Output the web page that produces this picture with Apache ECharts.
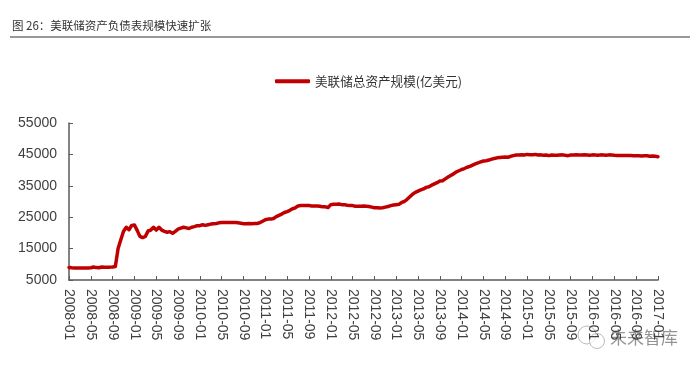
<!DOCTYPE html>
<html><head><meta charset="utf-8">
<style>html,body{margin:0;padding:0;background:#fff}#c{width:700px;height:369px}</style>
<script src="https://cdn.jsdelivr.net/npm/echarts@6/dist/echarts.min.js"></script>
</head><body><div id="c"></div>
<script>
const titleText = '图 26：美联储资产负债表规模快速扩张';
const seriesName = '美联储总资产规模(亿美元)';
const watermark = '未来智库';
const startYear = 2008, endYear = 2017;
// half-monthly readings, two values per month
const v2008 = [9000,8900,8850,8850,8850,8850,8850,8850,8900,9150,8950,8900,9150,9050,9100,9100,9150,9300,15000,17800,20500,21800,21000,22400];
const v2009 = [22500,20800,18900,18500,18900,20600,20900,21800,20900,21800,20900,20500,20200,20400,19900,20500,21200,21500,21800,21600,21400,21800,22000,22300];
const v2010 = [22300,22600,22400,22600,22800,22900,23000,23200,23300,23300,23300,23300,23300,23300,23200,23100,22900,22900,23000,22900,23000,23000,23300,23700];
const v2011 = [24200,24400,24400,24600,25200,25600,26000,26500,26800,27200,27700,28000,28600,28700,28700,28700,28700,28600,28600,28600,28500,28300,28300,28100];
const v2012 = [29000,29100,29100,29200,29000,29000,28800,28700,28700,28500,28500,28500,28600,28500,28400,28200,28000,28000,27900,28000,28200,28400,28700,28900];
const v2013 = [29000,29100,29700,30000,30700,31500,32300,32900,33300,33700,34000,34500,34700,35200,35600,36000,36500,36600,37200,37800,38300,38800,39400,39800];
const v2014 = [40200,40500,40900,41200,41600,42000,42300,42600,42900,43000,43200,43500,43700,43900,44000,44100,44150,44100,44400,44600,44800,44800,44850,44800];
const v2015 = [45000,44900,44900,45000,44800,44850,44700,44800,44600,44800,44700,44700,44800,44850,44700,44600,44800,44800,44850,44800,44800,44850,44800,44700];
const v2016 = [44850,44800,44700,44850,44800,44700,44850,44800,44700,44650,44650,44650,44650,44650,44650,44600,44600,44600,44500,44600,44550,44400,44500,44400];
const v2017 = [44250];
const values = [].concat(v2008,v2009,v2010,v2011,v2012,v2013,v2014,v2015,v2016,v2017);
const categories = [];
for (let y = startYear; y < endYear; y++) for (let m = 1; m <= 12; m++) {
  const l = y + '-' + String(m).padStart(2,'0'); categories.push(l, l);
}
categories.push(endYear + '-01');

const axisGray = '#595959', textGray = '#404040', red = '#c00000';
const cjk = '"Noto Sans CJK SC"', latin = '"Liberation Sans"';
const chart = echarts.init(document.getElementById('c'), null, {renderer:'canvas'});
chart.setOption({
  animation:false, backgroundColor:'#fff',
  grid:{left:69,right:42,top:123,bottom:89},
  legend:{show:true,left:275,top:75,padding:0,itemWidth:35,itemHeight:4,icon:'roundRect',itemGap:5,
    data:[{name:seriesName,itemStyle:{color:red}}],
    textStyle:{fontFamily:cjk,fontSize:12.6,color:'#333'}},
  xAxis:{type:'category',data:categories,boundaryGap:false,
    axisLine:{lineStyle:{color:axisGray,width:1.5}},
    axisTick:{inside:true,length:4,interval:7,lineStyle:{color:axisGray}},
    axisLabel:{interval:7,rotate:-90,margin:9,fontFamily:latin,fontSize:14,color:textGray,hideOverlap:false}},
  yAxis:{type:'value',min:5000,max:55000,interval:10000,
    axisLine:{show:true,lineStyle:{color:axisGray,width:1.5}},
    axisTick:{show:true,inside:true,length:4,lineStyle:{color:axisGray}},
    splitLine:{show:false},
    axisLabel:{margin:12,fontFamily:latin,fontSize:14,color:textGray,formatter:function(v){return String(v);}}},
  series:[{name:seriesName,type:'line',data:values,showSymbol:false,smooth:false,
    lineStyle:{color:red,width:3.5,cap:'round',join:'round'},itemStyle:{color:red}}],
  graphic:[
    {type:'text',left:12,top:20,style:{text:titleText,fontFamily:cjk,fontSize:11.5,fill:'#333'}},
    {type:'line',shape:{x1:10,y1:37,x2:690,y2:37},style:{stroke:'#333',lineWidth:1}},
    {type:'circle',shape:{cx:587,cy:335,r:9},style:{fill:'#fff',fillOpacity:0.7,stroke:'#bbb',lineWidth:1}},
    {type:'circle',shape:{cx:597,cy:341,r:7.5},style:{fill:'#fff',fillOpacity:0.7,stroke:'#bbb',lineWidth:1}},
    {type:'text',left:610,top:329,style:{text:watermark,fontFamily:cjk,fontSize:17,fill:'#888',opacity:0.9}}
  ]
});
</script></body></html>
